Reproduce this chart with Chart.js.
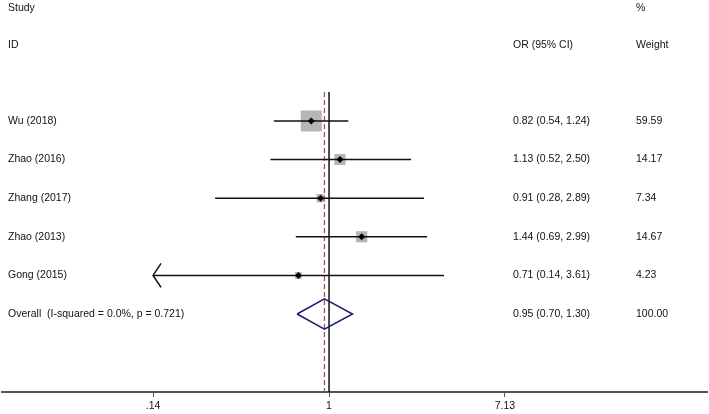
<!DOCTYPE html>
<html>
<head>
<meta charset="utf-8">
<script src="https://cdn.jsdelivr.net/npm/chart.js@4/dist/chart.umd.min.js"></script>
<style>
  body { margin: 0; background: #fff; }
  #wrap { width: 709px; height: 414px; position: relative; }
</style>
</head>
<body>
<div id="wrap"><canvas id="forest"></canvas></div>
<script>
// dados do forest plot
const estudos = ['Wu (2018)', 'Zhao (2016)', 'Zhang (2017)', 'Zhao (2013)', 'Gong (2015)']
const or = [0.82, 1.13, 0.91, 1.44, 0.71]
const icInf = [0.54, 0.52, 0.28, 0.69, 0.14]
const icSup = [1.24, 2.50, 2.89, 2.99, 3.61]
const pesos = [59.59, 14.17, 7.34, 14.67, 4.23]

const geralRotulo = 'Overall  (I-squared = 0.0%, p = 0.721)'
const geralOR = 0.95
const geralInf = 0.70
const geralSup = 1.30
const geralPeso = 100.00

const ticksX = [0.14, 1, 7.13]
const ticksRotulo = ['.14', '1', '7.13']

const fonte = '10.5px "Liberation Sans", Arial, sans-serif'
const linhaGeral = estudos.length + 1

function fmt(v) { return v.toFixed(2) }

// tamanho do quadrado proporcional ao peso (area)
function raioPeso(w) {
  const lado = 1.5 + 19.5 * Math.sqrt(w / pesos[0])
  return lado / Math.SQRT2
}

const datasets = []

// pontos (estimativa)
datasets.push({
  data: or.map((v, i) => ({ x: v, y: i + 1 })),
  pointStyle: 'rectRot',
  pointRadius: 3.5,
  backgroundColor: '#000',
  borderWidth: 0,
  order: 0
})

// intervalos de confianca
estudos.forEach((nome, i) => {
  datasets.push({
    data: [{ x: icInf[i], y: i + 1 }, { x: icSup[i], y: i + 1 }],
    showLine: true,
    borderColor: '#111',
    borderWidth: 1.5,
    pointRadius: 0,
    order: 1
  })
})

// losango geral
datasets.push({
  data: [
    { x: geralInf, y: linhaGeral },
    { x: geralOR, y: linhaGeral - 0.39 },
    { x: geralSup, y: linhaGeral },
    { x: geralOR, y: linhaGeral + 0.39 },
    { x: geralInf, y: linhaGeral }
  ],
  showLine: true,
  borderColor: '#1c1c6e',
  borderWidth: 1.5,
  pointRadius: 0,
  order: 1
})

// linha de nulidade e linha do efeito geral
datasets.push({
  data: [{ x: 1, y: 0.25 }, { x: 1, y: 8.02 }],
  showLine: true,
  borderColor: '#111',
  borderWidth: 1.5,
  pointRadius: 0,
  order: 2
})
datasets.push({
  data: [{ x: geralOR, y: 0.25 }, { x: geralOR, y: 8.02 }],
  showLine: true,
  borderColor: '#a5525a',
  borderWidth: 1.3,
  borderDash: [5, 3],
  pointRadius: 0,
  order: 2
})

// quadrados dos pesos
datasets.push({
  data: or.map((v, i) => ({ x: v, y: i + 1 })),
  pointStyle: 'rect',
  pointRadius: ctx => raioPeso(pesos[ctx.dataIndex]),
  backgroundColor: '#b5b5b5',
  borderWidth: 0,
  order: 3
})

const textos = {
  id: 'textos',
  afterDraw(chart) {
    const c = chart.ctx
    const sx = chart.scales.x
    const sy = chart.scales.y
    c.save()
    c.font = fonte
    c.fillStyle = '#111'
    c.textBaseline = 'middle'
    c.textAlign = 'left'
    c.fillText('Study', 8, 8)
    c.fillText('%', 636, 8)
    c.fillText('ID', 8, 45)
    c.fillText('OR (95% CI)', 513, 45)
    c.fillText('Weight', 636, 45)
    estudos.forEach((nome, i) => {
      const y = sy.getPixelForValue(i + 1)
      c.fillText(nome, 8, y)
      c.fillText(fmt(or[i]) + ' (' + fmt(icInf[i]) + ', ' + fmt(icSup[i]) + ')', 513, y)
      c.fillText(fmt(pesos[i]), 636, y)
    })
    const yg = sy.getPixelForValue(linhaGeral)
    c.fillText(geralRotulo, 8, yg)
    c.fillText(fmt(geralOR) + ' (' + fmt(geralInf) + ', ' + fmt(geralSup) + ')', 513, yg)
    c.fillText(fmt(geralPeso), 636, yg)

    // seta quando o IC passa do limite do eixo
    c.strokeStyle = '#111'
    c.lineWidth = 1.5
    estudos.forEach((nome, i) => {
      if (icInf[i] <= ticksX[0]) {
        const x = sx.getPixelForValue(icInf[i])
        const y = sy.getPixelForValue(i + 1)
        c.beginPath()
        c.moveTo(x + 8, y - 12)
        c.lineTo(x, y)
        c.lineTo(x + 8, y + 12)
        c.stroke()
      }
    })
    c.restore()
  }
}

new Chart(document.getElementById('forest'), {
  type: 'scatter',
  data: { datasets: datasets },
  plugins: [textos],
  options: {
    responsive: true,
    maintainAspectRatio: false,
    animation: false,
    layout: { autoPadding: false, padding: { top: 92, left: 2, right: 2, bottom: 0 } },
    plugins: { legend: { display: false }, tooltip: { enabled: false } },
    scales: {
      x: {
        type: 'logarithmic',
        min: 0.0259,
        max: 68.2,
        afterFit: s => { s.height = 22 },
        afterBuildTicks: s => { s.ticks = ticksX.map(v => ({ value: v })) },
        ticks: {
          autoSkip: false,
          maxRotation: 0,
          padding: 3,
          color: '#111',
          font: { family: '"Liberation Sans", Arial, sans-serif', size: 10.5 },
          callback: v => {
            const k = ticksX.indexOf(v)
            return k >= 0 ? ticksRotulo[k] : ''
          }
        },
        grid: { display: true, drawOnChartArea: false, drawTicks: true, tickLength: 5, color: '#555', lineWidth: 1 },
        border: { display: true, color: '#555', width: 2 }
      },
      y: {
        type: 'linear',
        reverse: true,
        min: 0.25,
        max: 8.02,
        display: false
      }
    }
  }
})
</script>
</body>
</html>
